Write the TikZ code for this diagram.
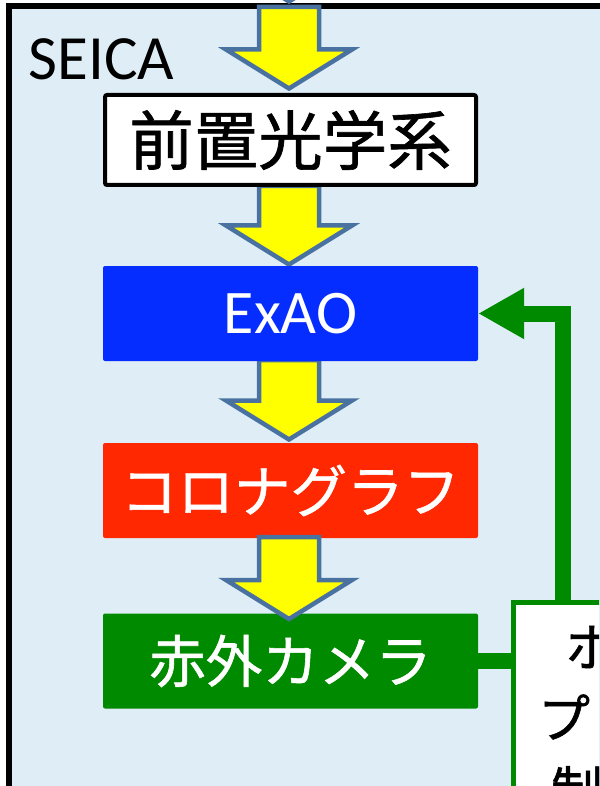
\documentclass[tikz,border=0pt]{standalone}
\usepackage{fontspec}
\setmainfont{Carlito}
\newfontfamily\jp[FakeBold=1]{Noto Sans CJK JP}
\usetikzlibrary{arrows.meta}
\definecolor{bgblue}{RGB}{223,238,246}
\definecolor{exaoblue}{RGB}{5,45,255}
\definecolor{corored}{RGB}{255,40,0}
\definecolor{camgreen}{RGB}{0,138,0}
\definecolor{arrline}{RGB}{74,114,160}
\definecolor{arrfill}{RGB}{255,255,0}
\pgfdeclarelayer{bg}
\pgfdeclarelayer{mid}
\pgfdeclarelayer{fg}
\pgfsetlayers{bg,mid,main,fg}
\newcommand\blockarr[2]{%
  \draw[yarrow] (259,#1) -- (319,#1) -- (319,{#2-39}) -- (352,{#2-39}) -- (289,#2)
    -- (226,{#2-39}) -- (259,{#2-39}) -- cycle;}
\begin{document}
\begin{tikzpicture}[x=1pt,y=-1pt,
  yarrow/.style={draw=arrline, fill=arrfill, line width=4.5pt, line join=miter},
  boxw/.style={draw=black, fill=white, line width=4pt, rounded corners=2pt,
    minimum width=371pt, minimum height=90pt, inner sep=0pt},
  boxc/.style={rounded corners=2pt, minimum width=375pt, minimum height=95pt,
    inner sep=0pt, text=white},
  jpbig/.style={font=\jp\fontsize{64.5}{64.5}\selectfont},
  jpmid/.style={font=\jp\fontsize{56.5}{56.5}\selectfont},
  jpsm/.style={font=\jp\fontsize{52}{52}\selectfont, inner sep=0pt},
  gline/.style={draw=camgreen, line width=16pt, line join=miter},
  ctrlbox/.style={draw=camgreen, fill=white, line width=5pt, inner sep=0pt}]
\useasboundingbox (0,0) rectangle (599,786);
\clip (0,0) rectangle (599,786);
% frame
\begin{pgfonlayer}{bg}
\draw[line width=6pt, fill=bgblue] (9,6.5) rectangle (660,860);
\end{pgfonlayer}
\node[anchor=base west, inner sep=0pt, font=\fontsize{63}{63}\selectfont] (seica) at (28.5,80) {SEICA};
% boxes
\node[boxw, jpbig] (pre) at (290.5,140) {前置光学系};
\node[boxc, fill=exaoblue, font=\fontsize{62}{62}\selectfont] (exao) at (290.5,313.5) {ExAO};
\node[boxc, fill=corored, jpmid] (coro) at (290.5,490.5) {コロナグラフ};
\node[boxc, fill=camgreen, jpmid] (cam) at (290.5,661) {赤外カメラ};
\node[ctrlbox, anchor=north west, minimum width=240pt, minimum height=320pt] (ctrl) at (510.5,599.5) {};
\node[jpsm] (t1) at (591,647) {ホ};
\node[jpsm] (t2) at (564,717) {プ};
\node[jpsm] (t3) at (577,790) {制};
% block arrows
\begin{pgfonlayer}{mid}
\blockarr{-80}{1.5}
\blockarr{7}{88.5}
\blockarr{186}{264.5}
\blockarr{360}{439.5}
\end{pgfonlayer}
\begin{pgfonlayer}{fg}
\blockarr{537}{619}
\end{pgfonlayer}
% green connectors
\coordinate (fb) at (562.5,599.5);
\draw[gline] (cam.east) -- (cam.east -| ctrl.west);
\draw[gline, -{Triangle[length=46pt,width=48pt]}] (fb) |- (exao.east);
\end{tikzpicture}
\end{document}
